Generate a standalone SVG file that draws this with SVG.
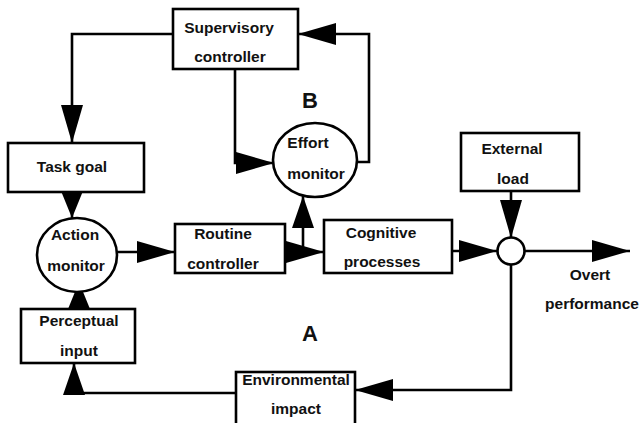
<svg xmlns="http://www.w3.org/2000/svg" width="642" height="423" viewBox="0 0 642 423">
<style>
.box{fill:#fff;stroke:#000;stroke-width:2.6}
.t{font-family:"Liberation Sans",Arial,sans-serif;font-size:15.5px;font-weight:bold;text-anchor:middle;fill:#111}
.big{font-family:"Liberation Sans",Arial,sans-serif;font-size:22px;font-weight:bold;text-anchor:middle;fill:#111}
.c{fill:none;stroke:#000;stroke-width:2.6}
</style>
<defs>
<marker id="aL" markerUnits="userSpaceOnUse" markerWidth="38" markerHeight="22" refX="38" refY="11" orient="auto"><path d="M0,0 L38,11 L0,22 Z" fill="#000"/></marker>
<marker id="aM" markerUnits="userSpaceOnUse" markerWidth="32" markerHeight="22" refX="32" refY="11" orient="auto"><path d="M0,0 L32,11 L0,22 Z" fill="#000"/></marker>
<marker id="aS" markerUnits="userSpaceOnUse" markerWidth="27" markerHeight="22" refX="27" refY="11" orient="auto"><path d="M0,0 L27,11 L0,22 Z" fill="#000"/></marker>
</defs>
<rect width="642" height="423" fill="#fff"/>
<g id="connectors">
<path class="c" d="M173,34 H72 V143" marker-end="url(#aL)"/>
<path class="c" d="M235,69 V163 H274" marker-end="url(#aL)"/>
<path class="c" d="M357,162 H369 V34 H298" marker-end="url(#aL)"/>
<path class="c" d="M72,192 V218" marker-end="url(#aS)"/>
<path class="c" d="M117,252 H175" marker-end="url(#aL)"/>
<path class="c" d="M285,252 H324" marker-end="url(#aL)"/>
<path class="c" d="M303,252 V196" marker-end="url(#aM)"/>
<path class="c" d="M452,251 H497" marker-end="url(#aL)"/>
<path class="c" d="M511,191 V238" marker-end="url(#aL)"/>
<path class="c" d="M524,251 H630" marker-end="url(#aL)"/>
<path class="c" d="M511,265 V390 H355" marker-end="url(#aL)"/>
<path class="c" d="M236,393 H74 V363" marker-end="url(#aM)"/>
<path class="c" d="M79,309 V282" marker-end="url(#aS)"/>
</g>
<g id="supervisory"><rect class="box" x="173" y="9" width="125" height="60"/><text class="t" x="229" y="33">Supervisory</text><text class="t" x="230" y="62">controller</text></g>
<g id="taskgoal"><rect class="box" x="8" y="143" width="136" height="49"/><text class="t" x="72" y="172">Task goal</text></g>
<g id="action"><ellipse class="box" cx="77" cy="255" rx="40" ry="37"/><text class="t" x="75" y="240">Action</text><text class="t" x="76" y="271">monitor</text></g>
<g id="routine"><rect class="box" x="175" y="224" width="110" height="49"/><text class="t" x="223" y="239">Routine</text><text class="t" x="223" y="269">controller</text></g>
<g id="effort"><ellipse class="box" cx="315" cy="160" rx="42" ry="37"/><text class="t" x="308" y="148">Effort</text><text class="t" x="316" y="179">monitor</text></g>
<g id="cognitive"><rect class="box" x="324" y="220" width="128" height="53"/><text class="t" x="381" y="238">Cognitive</text><text class="t" x="382" y="267">processes</text></g>
<g id="external"><rect class="box" x="461" y="133" width="118" height="58"/><text class="t" x="512" y="154">External</text><text class="t" x="513" y="184">load</text></g>
<g id="junction"><circle class="box" cx="511" cy="251" r="13.5"/></g>
<g id="overt"><text class="t" x="590" y="280">Overt</text><text class="t" x="592" y="309">performance</text></g>
<g id="perceptual"><rect class="box" x="21" y="309" width="114" height="54"/><text class="t" x="79" y="326">Perceptual</text><text class="t" x="79" y="356">input</text></g>
<g id="environmental"><rect class="box" x="236" y="372" width="119" height="60"/><text class="t" x="296" y="385">Environmental</text><text class="t" x="296" y="414">impact</text></g>
<g id="labels"><text class="big" x="310" y="108">B</text><text class="big" x="310" y="341">A</text></g>
</svg>
